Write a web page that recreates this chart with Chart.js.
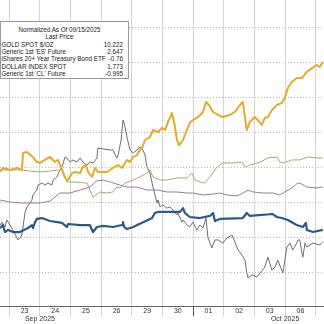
<!DOCTYPE html>
<html><head><meta charset="utf-8">
<script src="https://cdn.jsdelivr.net/npm/chart.js@4.4.1/dist/chart.umd.min.js"></script>
<style>
html,body{margin:0;padding:0;background:#fff;overflow:hidden;}
#wrap{position:relative;width:324px;height:324px;}
#legend{position:absolute;left:0;top:21px;width:129px;height:58px;box-sizing:border-box;border:1px solid #9a9a9a;background:#fff;overflow:hidden;}
#legend .inner{position:absolute;left:0;top:0;width:131px;transform-origin:0 0;font-family:"Liberation Sans",Arial,sans-serif;font-size:7px;color:#222;line-height:7.45px;padding-top:3.6px;}
#legend .c{text-align:center;white-space:nowrap;}
#legend .row{position:relative;height:7.45px;white-space:nowrap;}
#legend .row .n{position:absolute;left:0.5px;top:0;}
#legend .row .v{position:absolute;right:0;top:0;}
</style></head>
<body>
<div id="wrap">
<canvas id="c" width="324" height="324"></canvas>
<div id="legend"><div class="inner" id="legInner"></div></div>
</div>
<script>
// ---- data (x = trading-day position, y = % change normalized at 09/15/2025) ----
const dayLabels = ['23','24','25','26','29','30','01','02','03','06'];
const dayLabelPos = [1.5,2.5,3.5,4.5,5.5,6.5,7.5,8.5,9.5,10.5];
const dayBoundaries = [1,2,3,4,5,6,7,8,9,10,11];
const monthLabels = ['Sep 2025','Oct 2025'];
const monthPos = [2,10];
const monthBoundary = 7;
const yGridValues = [-4,-2,0,2,4,6,8,10];

const legendTitle = ['Normalized As Of 09/15/2025','Last Price'];
const seriesNames = ['GOLD SPOT $/OZ',"Generic 1st 'ES' Future",'iShares 20+ Year Treasury Bond ETF','DOLLAR INDEX SPOT',"Generic 1st 'CL' Future"];
const lastValues = ['10.222','2.647','-0.76','1.773','-0.995'];

const gold = [[0.70,1.77],[0.79,2.00],[1.02,1.89],[1.25,2.00],[1.41,1.89],[1.45,2.86],[1.58,2.91],[1.77,2.63],[1.90,2.34],[2.00,2.29],[2.16,2.46],[2.33,2.63],[2.49,2.34],[2.59,2.46],[2.72,1.89],[2.82,1.43],[2.92,1.31],[3.05,1.71],[3.14,1.77],[3.31,1.71],[3.40,2.06],[3.50,2.17],[3.57,1.77],[3.70,1.49],[3.80,2.00],[3.89,1.77],[4.06,1.77],[4.19,1.77],[4.38,2.00],[4.55,2.17],[4.68,2.00],[4.84,2.46],[4.94,2.34],[5.04,2.63],[5.17,2.74],[5.26,3.03],[5.33,3.14],[5.43,3.60],[5.59,3.77],[5.69,4.17],[5.85,4.06],[5.98,4.29],[6.08,4.17],[6.18,4.63],[6.31,5.14],[6.41,4.34],[6.47,3.60],[6.54,3.31],[6.67,3.60],[6.77,4.06],[6.89,4.57],[6.99,4.74],[7.16,4.91],[7.32,5.20],[7.42,5.77],[7.52,5.60],[7.65,5.20],[7.81,5.03],[7.97,4.91],[8.20,5.03],[8.36,5.20],[8.53,5.60],[8.62,5.77],[8.69,4.91],[8.75,4.17],[8.85,4.63],[9.01,4.91],[9.11,4.74],[9.24,4.46],[9.34,4.86],[9.44,4.91],[9.57,5.31],[9.73,5.60],[9.89,5.71],[9.99,6.00],[10.09,6.57],[10.22,6.91],[10.38,7.14],[10.55,7.14],[10.71,7.49],[10.88,7.71],[11.04,7.89],[11.13,7.77],[11.23,8.06]];

const esFuture = [[0.70,1.89],[1.35,1.89],[2.00,1.77],[2.65,1.89],[2.72,2.00],[2.88,1.20],[3.14,1.20],[3.54,1.14],[3.73,0.34],[3.96,0.63],[4.19,0.57],[4.38,0.63],[4.51,0.91],[4.61,0.86],[4.78,1.14],[5.04,1.31],[5.26,1.49],[5.49,1.71],[5.59,1.89],[5.69,1.49],[5.92,1.31],[6.14,1.31],[6.47,1.43],[6.80,1.43],[6.96,1.71],[7.06,1.31],[7.22,1.20],[7.38,1.14],[7.55,1.49],[7.78,2.06],[7.97,2.29],[8.30,2.29],[8.59,2.34],[8.69,2.06],[8.85,2.17],[9.18,2.34],[9.44,2.57],[9.73,2.63],[9.83,2.34],[9.93,2.29],[10.22,2.46],[10.48,2.46],[10.74,2.63],[11.04,2.57],[11.23,2.57]];

const tltEtf = [[0.70,-1.43],[0.79,-1.26],[0.86,-1.66],[0.96,-1.54],[1.12,-1.66],[1.35,-1.66],[1.61,-1.43],[1.74,-1.26],[1.77,-1.43],[1.84,-1.09],[1.90,-0.91],[2.07,-0.86],[2.33,-1.03],[2.72,-1.14],[2.88,-1.37],[2.92,-1.20],[3.31,-1.26],[3.63,-1.26],[3.73,-1.66],[3.86,-1.37],[4.06,-1.31],[4.38,-1.37],[4.68,-1.26],[4.71,-1.09],[4.75,-1.37],[4.84,-1.49],[5.04,-1.37],[5.66,-0.86],[5.75,-0.57],[5.85,-0.51],[6.14,-0.51],[6.57,-0.51],[6.67,-0.29],[6.73,-0.57],[6.89,-0.80],[7.22,-0.86],[7.55,-0.74],[7.65,-0.57],[7.71,-1.03],[7.87,-0.91],[8.62,-0.86],[8.75,-0.57],[8.85,-0.74],[9.60,-0.63],[9.73,-0.80],[9.89,-0.86],[10.09,-0.97],[10.38,-1.26],[10.58,-1.37],[10.68,-1.14],[10.71,-1.54],[10.91,-1.66],[11.23,-1.54]];

const dollarIndex = [[0.70,0.17],[1.02,0.06],[1.35,0.00],[1.68,0.00],[2.00,0.00],[2.33,0.11],[2.49,0.34],[2.65,0.57],[2.98,0.57],[3.31,0.74],[3.63,0.91],[3.86,1.26],[4.06,1.31],[4.29,1.20],[4.61,1.03],[4.84,0.91],[5.17,0.91],[5.49,0.74],[5.85,0.74],[6.14,0.63],[6.47,0.63],[6.80,0.57],[6.99,0.57],[7.32,0.46],[7.65,0.51],[7.87,0.57],[8.10,0.46],[8.43,0.40],[8.69,0.63],[8.79,0.74],[8.95,0.63],[9.27,0.57],[9.60,0.57],[9.83,0.46],[9.99,0.63],[10.22,0.86],[10.38,1.09],[10.48,1.14],[10.71,0.91],[11.04,0.86],[11.23,0.91]];

const crudeOil = [[0.70,-1.26],[0.76,-1.09],[0.86,-1.37],[0.92,-0.97],[1.02,-1.26],[1.12,-1.54],[1.25,-2.00],[1.28,-2.11],[1.35,-2.00],[1.41,-1.83],[1.45,-1.37],[1.51,-0.57],[1.58,-0.23],[1.68,0.00],[1.74,0.17],[1.77,0.46],[1.90,0.74],[1.94,1.03],[2.07,1.14],[2.16,1.03],[2.26,1.14],[2.39,1.03],[2.43,1.31],[2.56,1.49],[2.62,1.77],[2.72,2.06],[2.82,2.63],[2.88,2.57],[2.98,2.34],[3.08,2.46],[3.21,2.34],[3.31,2.57],[3.40,2.34],[3.54,2.17],[3.63,2.34],[3.73,2.29],[3.86,2.57],[3.89,3.14],[4.06,3.09],[4.29,3.03],[4.38,3.03],[4.51,2.57],[4.55,2.74],[4.65,3.60],[4.71,4.74],[4.75,4.57],[4.84,3.77],[4.94,3.03],[5.04,2.86],[5.17,3.03],[5.26,3.20],[5.36,3.03],[5.43,2.74],[5.49,2.06],[5.59,1.71],[5.69,0.91],[5.82,0.00],[5.85,0.17],[5.92,-0.23],[6.01,-0.11],[6.14,-0.29],[6.24,-0.23],[6.34,-0.40],[6.47,-0.69],[6.50,-0.57],[6.63,-1.09],[6.67,-0.97],[6.80,-1.26],[6.89,-1.37],[6.99,-1.09],[7.12,-1.54],[7.22,-1.26],[7.32,-1.43],[7.42,-0.86],[7.48,-1.94],[7.61,-2.57],[7.71,-2.11],[7.81,-2.11],[7.97,-2.29],[8.10,-2.00],[8.27,-1.83],[8.36,-2.23],[8.47,-2.69],[8.59,-2.97],[8.69,-3.26],[8.75,-4.00],[8.79,-4.29],[8.92,-4.11],[9.08,-4.23],[9.18,-4.00],[9.27,-3.83],[9.34,-3.66],[9.44,-3.09],[9.50,-3.43],[9.57,-3.83],[9.67,-3.66],[9.76,-3.26],[9.89,-3.83],[9.93,-4.00],[10.06,-2.51],[10.16,-2.29],[10.25,-2.69],[10.38,-2.29],[10.42,-2.11],[10.48,-2.11],[10.55,-2.86],[10.58,-3.09],[10.65,-2.29],[10.71,-2.51],[10.91,-2.29],[11.13,-2.40],[11.23,-2.23]];

// ---- legend box (real text) ----
const inner = document.getElementById('legInner');
const titles = legendTitle.map(t => { const d = document.createElement('div'); d.className = 'c'; d.textContent = t; inner.appendChild(d); return d; });
const names = seriesNames.map((n, i) => {
  const r = document.createElement('div'); r.className = 'row';
  const a = document.createElement('span'); a.className = 'n'; a.textContent = n;
  const b = document.createElement('span'); b.className = 'v'; b.textContent = lastValues[i];
  r.appendChild(a); r.appendChild(b); inner.appendChild(r);
  return a;
});
// condense the text horizontally so the longest name ends where the reference shows it
const natural = names[2].offsetWidth;
const sx = 104 / natural;
inner.style.transform = 'scaleX(' + sx + ')';
inner.style.width = (122 / sx) + 'px';
titles.forEach(t => { t.style.width = (117 / sx) + 'px'; });

// ---- chart ----
const FONT = '"Liberation Sans Narrow","Liberation Sans",Arial,sans-serif';
const isInt = v => Math.abs(v - Math.round(v)) < 1e-6;
const toXY = arr => arr.map(([x, y]) => ({x, y}));
const mk = (label, arr, color, width) => ({
  label, data: toXY(arr), borderColor: color, backgroundColor: color,
  borderWidth: width, pointRadius: 0, tension: 0, borderJoinStyle: 'round', fill: false
});

new Chart(document.getElementById('c'), {
  type: 'line',
  data: {
    datasets: [
      mk(seriesNames[0], gold, '#e8a92a', 2),
      mk(seriesNames[2], tltEtf, '#2a5a8a', 2.2),
      mk(seriesNames[1], esFuture, '#9fae6e', 1),
      mk(seriesNames[3], dollarIndex, '#a27890', 1),
      mk(seriesNames[4], crudeOil, '#6e6e6e', 1)
    ]
  },
  options: {
    responsive: false, animation: false, devicePixelRatio: 1,
    layout: { padding: 0 },
    plugins: { legend: { display: false }, tooltip: { enabled: false } },
    scales: {
      x: {
        type: 'linear', position: 'bottom', min: 0.697, max: 11.27,
        afterBuildTicks: s => {
          s.ticks = dayBoundaries.concat(dayLabelPos).sort((a, b) => a - b).map(v => ({value: v}));
        },
        afterFit: s => { s.height = 18; },
        grid: {
          color: c => (c.tick && isInt(c.tick.value)) ? '#d4d4d4' : 'rgba(0,0,0,0)',
          lineWidth: 1, drawTicks: true, tickLength: 10,
          tickColor: c => !c.tick ? 'rgba(0,0,0,0)' : (c.tick.value === monthBoundary ? '#555' : (isInt(c.tick.value) ? '#d4d4d4' : 'rgba(0,0,0,0)'))
        },
        border: { display: true, color: '#666', width: 1 },
        ticks: {
          autoSkip: false, maxRotation: 0, minRotation: 0, padding: -8.4,
          color: '#333', font: { family: FONT, size: 7, lineHeight: 1.1 },
          callback: v => {
            const di = dayLabelPos.findIndex(p => Math.abs(p - v) < 1e-6);
            if (di >= 0) return dayLabels[di];
            const mi = monthPos.findIndex(p => Math.abs(p - v) < 1e-6);
            if (mi >= 0) return ['', monthLabels[mi]];
            return '';
          }
        }
      },
      y: {
        type: 'linear', position: 'right', min: -5.886, max: 11.6,
        afterBuildTicks: s => { s.ticks = yGridValues.map(v => ({value: v})); },
        afterFit: s => { s.width = 0; },
        grid: { color: '#b8b8b8', lineWidth: 1, drawTicks: false },
        border: { display: false, dash: [1, 2] },
        ticks: { display: false }
      }
    }
  }
});
</script>
</body></html>
